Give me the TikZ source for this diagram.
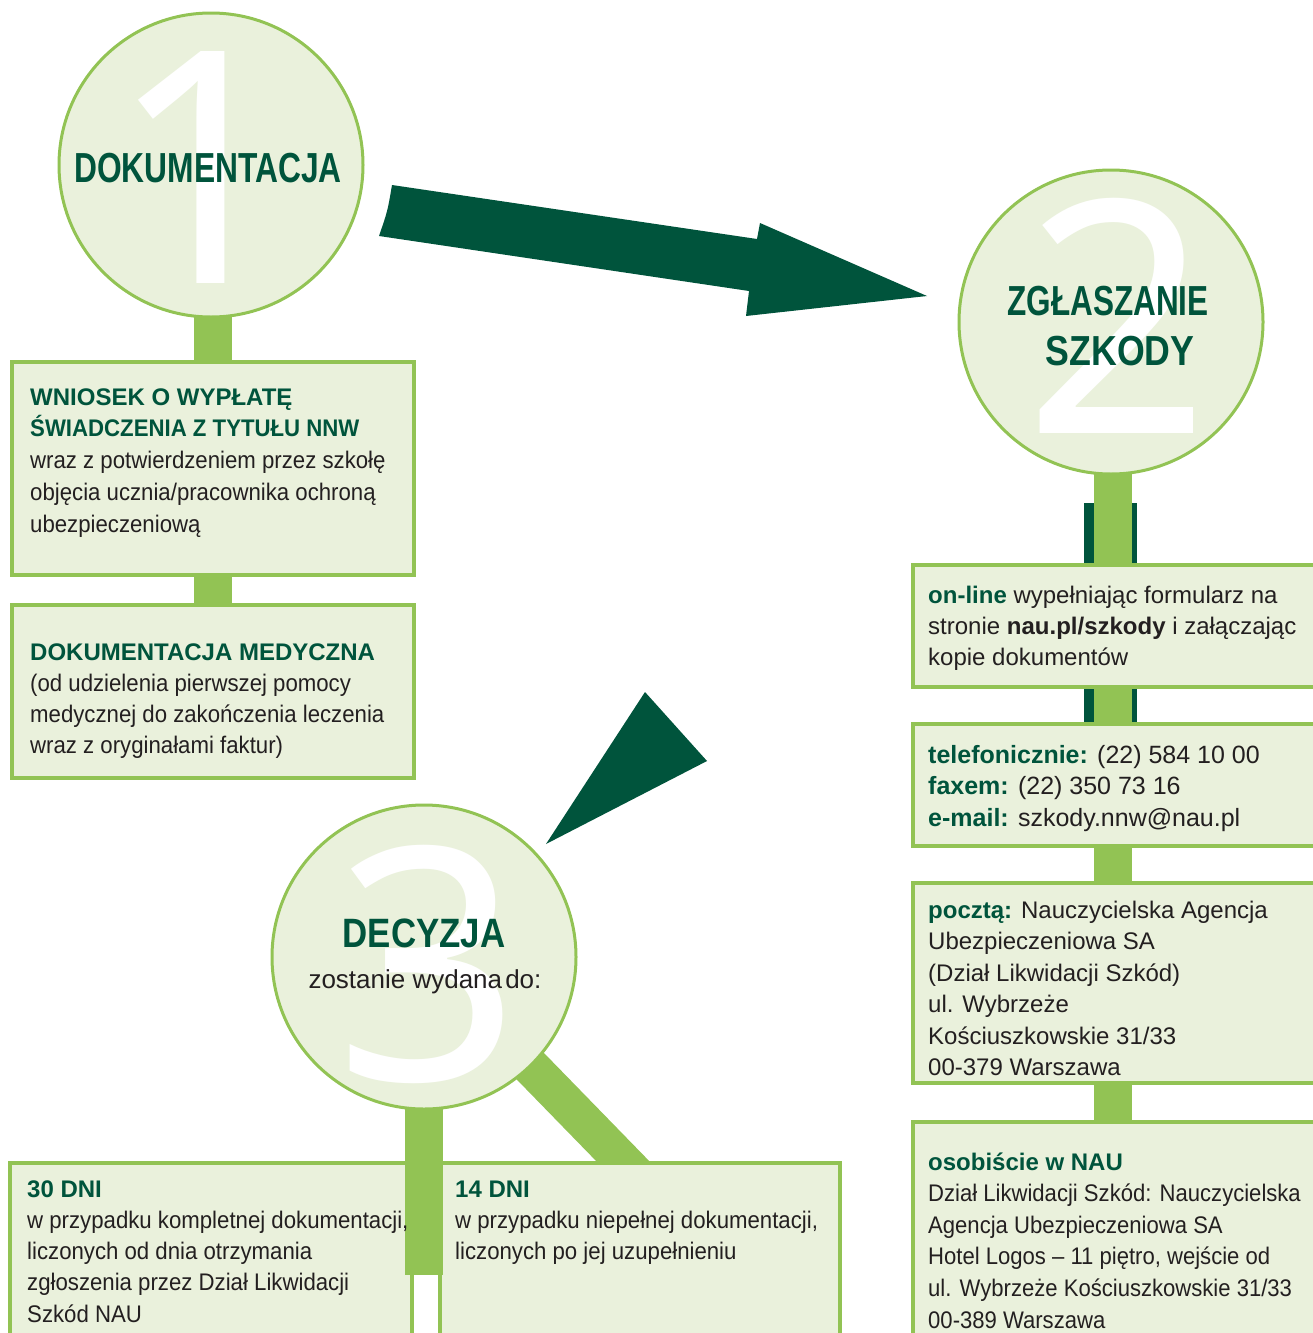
\documentclass[tikz,border=0pt]{standalone}
\usepackage{fontspec}
\usepackage{graphicx}
\setmainfont{Liberation Sans}
\newfontfamily\narrow[FakeStretch=0.925]{Liberation Sans}
\newfontfamily\narrowb[FakeStretch=0.92]{Liberation Sans}
\newfontfamily\digitfont{Noto Sans}
\definecolor{dkgreen}{RGB}{0,84,60}
\definecolor{lgreen}{RGB}{146,195,84}
\definecolor{boxfill}{RGB}{234,241,220}
\definecolor{txtblack}{RGB}{35,31,32}
\pgfdeclarelayer{bg}
\pgfdeclarelayer{mid}
\pgfsetlayers{bg,mid,main}
\setlength{\parindent}{0pt}
\tikzset{
  box/.style={draw=lgreen, line width=3.5pt, fill=boxfill, anchor=north west, inner sep=0pt, outer sep=0pt},
  circ/.style={circle, draw=lgreen, line width=3pt, fill=boxfill, minimum size=304pt, inner sep=0pt},
  stem/.style={draw=lgreen, line width=38pt},
  txt/.style={anchor=base west, inner sep=0pt, text=txtblack},
  digit/.style={anchor=base, inner sep=0pt, text=white, font=\digitfont\fontsize{325}{325}\selectfont},
  title/.style={anchor=base, inner sep=0pt, text=dkgreen, font=\fontsize{42}{42}\selectfont\bfseries},
  bigarrow/.style={fill=dkgreen},
}
\newcommand{\hd}[1]{{\color{dkgreen}\bfseries #1}}
\begin{document}
\begin{tikzpicture}[x=1pt,y=-1pt]
\useasboundingbox (0,0) rectangle (1312,1333);

% circles
\node[circ] (c1) at (211,165) {};
\node[circ] (c2) at (1111,322) {};
\node[circ] (c3) at (424,957) {};
\node[digit] (d1) at (202,283) {1};
\node[digit] (d2) at (1117,433) {2};
\node[digit] (d3) at (428,1080) {3};
\node[title] (h1) at (208,182) {\scalebox{0.756}[1]{DOKUMENTACJA}};
\node[title] (h2a) at (1108,315) {\scalebox{0.75}[1]{ZGŁASZANIE}};
\node[title] (h2b) at (1120,365) {\scalebox{0.85}[1]{SZKODY}};
\node[title, font=\fontsize{41}{41}\selectfont\bfseries] (h3) at (424,947) {\scalebox{0.85}[1]{DECYZJA}};
\node[anchor=base, inner sep=0pt, text=txtblack, font=\fontsize{26}{26}\selectfont] (h3b) at (425,988) {zostanie wydana\hspace{0.12em}do:};

% left boxes
\node[box, minimum width=402pt, minimum height=213pt] (b1) at (12,362) {};
\node[box, minimum width=402pt, minimum height=173pt] (b2) at (12,605) {};
\node[txt] (t1) at (30,405) {\parbox[t]{380pt}{\raggedright\fontsize{24}{31.75}\selectfont\leavevmode
  \hd{WNIOSEK O WYPŁATĘ\\ {\narrow ŚWIADCZENIA Z TYTUŁU NNW}}\\
  {\narrow wraz z potwierdzeniem przez szkołę\\ objęcia ucznia/pracownika ochroną\\ ubezpieczeniową}}};
\node[txt] (t2) at (30,660) {\parbox[t]{380pt}{\raggedright\fontsize{24}{31}\selectfont\leavevmode
  \hd{DOKUMENTACJA MEDYCZNA}\\
  {\narrow (od udzielenia pierwszej pomocy\\ medycznej do zakończenia leczenia\\ wraz z oryginałami faktur)}}};

% right boxes
\node[box, minimum width=420pt, minimum height=122pt] (bon) at (913,565) {};
\node[box, minimum width=420pt, minimum height=122pt] (btel) at (913,724) {};
\node[box, minimum width=420pt, minimum height=200pt] (bpost) at (913,883) {};
\node[box, minimum width=420pt, minimum height=240pt] (bosob) at (913,1122) {};
\node[txt] (ton) at (928,603) {\parbox[t]{380pt}{\raggedright\fontsize{24}{31}\selectfont\leavevmode
  \hd{on-line} wypełniając formularz na\\ stronie {\bfseries nau.pl/szkody} i załączając\\ kopie dokumentów}};
\node[txt] (ttel) at (928,763) {\parbox[t]{380pt}{\raggedright\fontsize{25}{31.5}\selectfont\leavevmode
  \hd{telefonicznie:} (22) 584 10 00\\ \hd{faxem:} (22) 350 73 16\\ \hd{e-mail:} szkody.nnw@nau.pl}};
\node[txt] (tpost) at (928,918) {\parbox[t]{380pt}{\raggedright\fontsize{24}{31.5}\selectfont\leavevmode
  \hd{pocztą:} Nauczycielska Agencja\\ Ubezpieczeniowa SA\\ (Dział Likwidacji Szkód)\\ ul. Wybrzeże\\ Kościuszkowskie 31/33\\ 00-379 Warszawa}};
\node[txt] (tosob) at (928,1170) {\parbox[t]{384pt}{\raggedright\fontsize{24}{31.6}\selectfont\leavevmode
  \hd{osobiście w NAU}\\
  {\narrowb Dział Likwidacji Szkód: Nauczycielska\\ Agencja Ubezpieczeniowa SA\\ Hotel Logos – 11 piętro, wejście od\\ ul. Wybrzeże Kościuszkowskie 31/33\\ 00-389 Warszawa}}};

% arrows
\fill[bigarrow] (392,185) -- (757,239) -- (760,223) -- (927,296) -- (746,316) -- (749,291) -- (379,236) .. controls (387.6,211) .. (392,185) -- cycle;
\fill[bigarrow] (645,692) -- (707,761) -- (546,844) -- cycle;

\coordinate (d3end) at (646,1185);
\coordinate (s3end) at (424,1275);

\begin{pgfonlayer}{bg}
  \fill[white] (0,0) rectangle (1312,1333);
  \fill[dkgreen] (1084,503) rectangle (1137,724);
  \draw[stem] (b2.north |- c1.center) -- (b2.north);
  \draw[stem] ([xshift=2pt]c2.center) -- ([xshift=2pt]c2.center |- bosob.north);
  \begin{scope}
    \clip (0,0) rectangle (1312,1166);
    \draw[stem] (c3.center) -- (d3end);
  \end{scope}
  \node[box, minimum width=402pt, minimum height=190pt] (b30) at (10,1163) {};
  \node[box, minimum width=400pt, minimum height=190pt] (b14) at (440,1163) {};
\end{pgfonlayer}
\begin{pgfonlayer}{mid}
  \draw[stem] (c3.center) -- (s3end);
\end{pgfonlayer}

\node[txt] (t30) at (27,1197) {\parbox[t]{390pt}{\raggedright\fontsize{24}{31.25}\selectfont\leavevmode
  \hd{30 DNI}\\
  {\narrow w przypadku kompletnej dokumentacji,\\ liczonych od dnia otrzymania\\ zgłoszenia przez Dział Likwidacji\\ Szkód NAU}}};
\node[txt] (t14) at (455,1197) {\parbox[t]{380pt}{\raggedright\fontsize{24}{31.25}\selectfont\leavevmode
  \hd{14 DNI}\\
  {\narrow w przypadku niepełnej dokumentacji,\\ liczonych po jej uzupełnieniu}}};
\end{tikzpicture}
\end{document}
